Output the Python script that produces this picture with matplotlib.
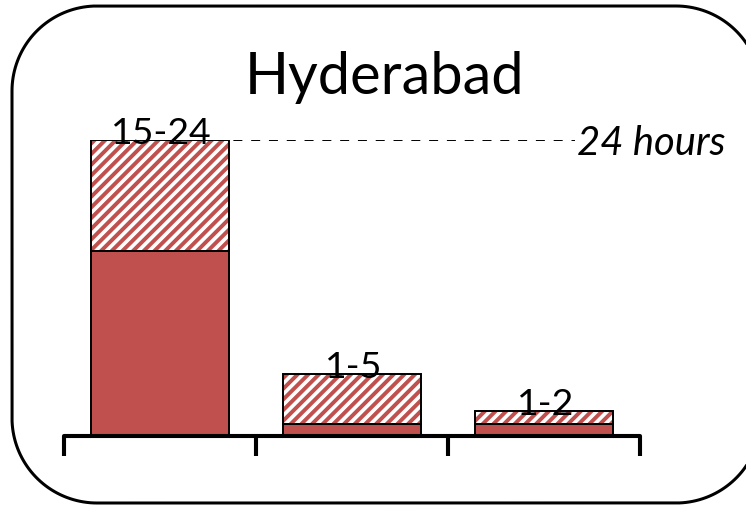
import numpy as np
import matplotlib
matplotlib.use("Agg")
import matplotlib.pyplot as plt
from matplotlib.patches import PathPatch
from matplotlib.path import Path
from matplotlib.transforms import IdentityTransform

# data
cities = ["Hyderabad"]
labels = ["15-24", "1-5", "1-2"]
low = [15, 1, 1]
high = [24, 5, 2]
ref_hours = 24
ref_label = "24 hours"

red = "#C0504D"
DPI = 128
plt.rcParams["font.family"] = ["Lato", "DejaVu Sans"]
plt.rcParams["hatch.linewidth"] = 2.2

fig = plt.figure(figsize=(746 / DPI, 505 / DPI), dpi=DPI)
ax = fig.add_axes([64 / 746, (505 - 436) / 505, 576 / 746, 296 / 505])

x = list(range(len(labels)))
w = 0.715
span = [h - l for h, l in zip(high, low)]

ax.bar(x, low, width=w, color=red, edgecolor="black", linewidth=1.1, zorder=2)
ax.bar(x, span, bottom=low, width=w, color="white", edgecolor=red,
       hatch="////", linewidth=0, zorder=2)
ax.bar(x, span, bottom=low, width=w, fill=False, edgecolor="black",
       linewidth=1.1, zorder=3)

for xi, lab, top in zip(x, labels, high):
    ax.annotate(lab, (xi, top), xytext=(1, -2), textcoords="offset points",
                ha="center", va="baseline", fontsize=21, zorder=4)

ax.plot([-w / 2, 2.16], [ref_hours, ref_hours], color="black",
        linestyle=(0, (4.6, 4.5)), linewidth=1.1, zorder=1)
ax.text(2.17, ref_hours - 0.25, ref_label, ha="left", va="center",
        fontsize=22.5, style="italic", clip_on=False)

ax.set_xlim(-0.5, 2.5)
ax.set_ylim(0, 24)
for s in ["top", "right", "left"]:
    ax.spines[s].set_visible(False)
ax.spines["bottom"].set_linewidth(2.3)
ax.spines["bottom"].set_capstyle("round")
ax.set_xticks([-0.5, 0.5, 1.5, 2.5])
ax.set_xticklabels([])
ax.set_yticks([])
ax.tick_params(axis="x", direction="out", length=11, width=2.3)

fig.text(385 / 746, 1 - 77 / 505, cities[0], ha="center", va="center",
         fontsize=32.5)

# rounded frame in pixels (circular corners)
x0, y0, x1, y1, r = 12, 2, 761, 499, 85
pts = []
for cx, cy, a0 in [(x1 - r, y1 - r, 0), (x0 + r, y1 - r, 90),
                   (x0 + r, y0 + r, 180), (x1 - r, y0 + r, 270)]:
    t = np.radians(np.linspace(a0, a0 + 90, 40))
    pts += list(zip(cx + r * np.cos(t), cy + r * np.sin(t)))
pts.append(pts[0])
fig.add_artist(PathPatch(Path(pts), transform=IdentityTransform(), fill=False,
                         edgecolor="black", linewidth=1.7))

fig.savefig("out.png", dpi=DPI)
